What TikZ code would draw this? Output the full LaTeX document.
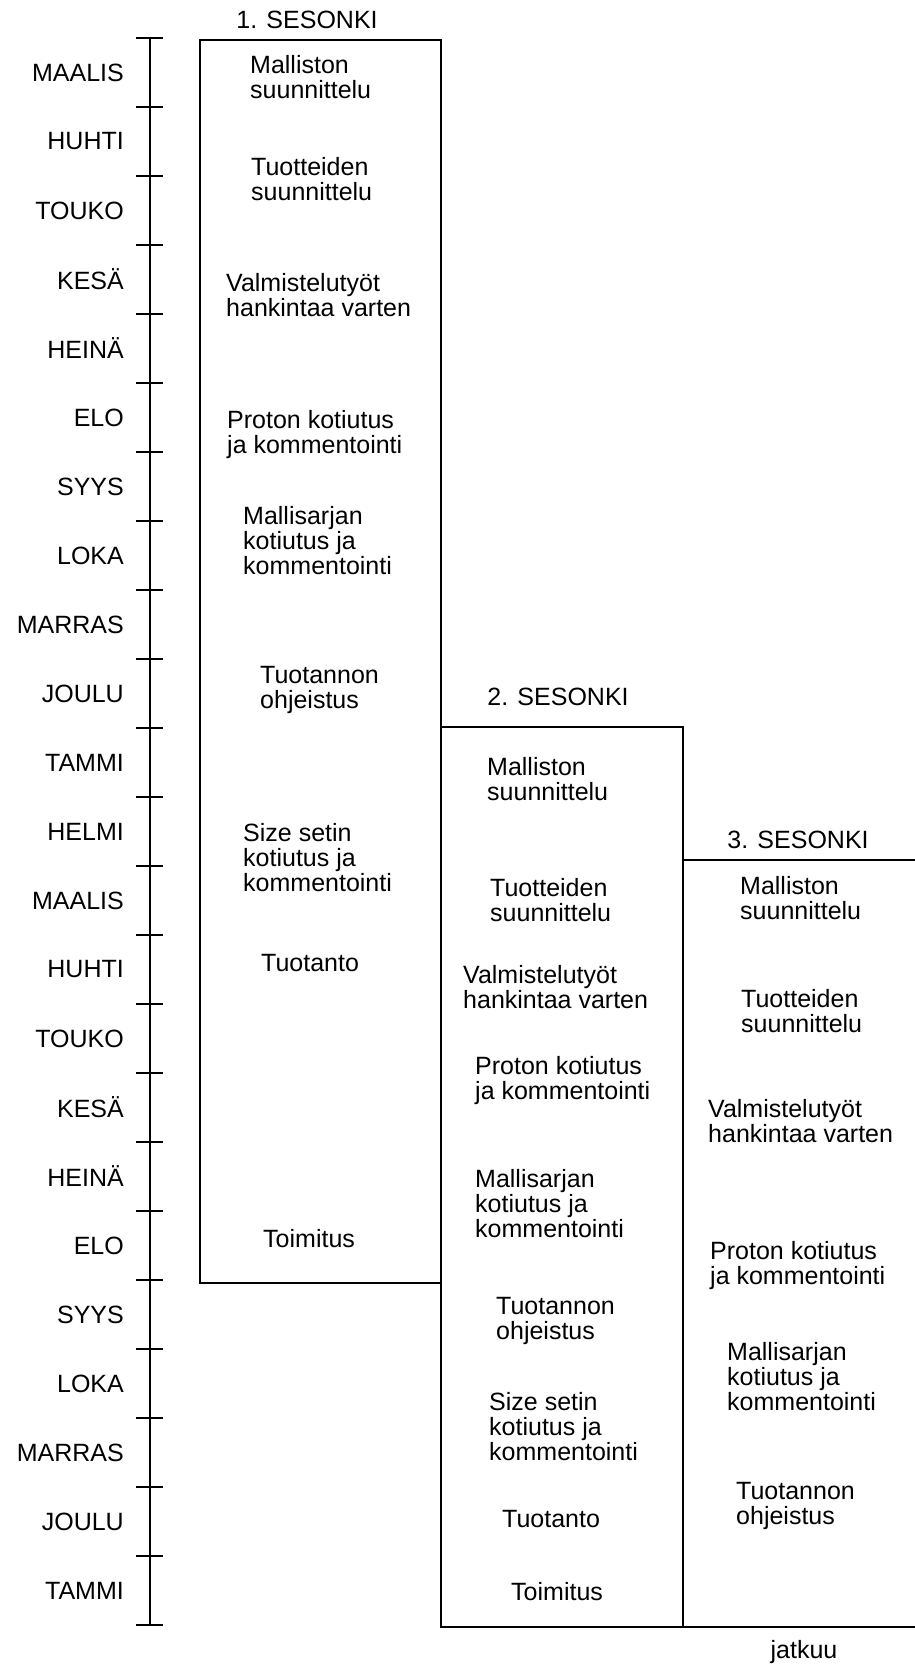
\documentclass[tikz,border=0pt]{standalone}
\usepackage{fontspec}
\setmainfont{Liberation Sans}
\begin{document}
\begin{tikzpicture}[x=1pt,y=-1pt,
  ln/.style={line width=1.8pt, line cap=rect},
  mon/.style={anchor=east, inner sep=0pt, font=\fontsize{25}{25}\selectfont},
  txt/.style={anchor=west, inner sep=0pt, align=left, font=\fontsize{25}{25}\selectfont},
  ttl/.style={anchor=center, inner sep=0pt, font=\fontsize{25}{25}\selectfont}]
\useasboundingbox (0,0) rectangle (914,1665);
% time axis
\draw[ln] (150,38) -- (150,1625);
\foreach \k in {0,...,23}{
  \draw[ln] (137,38+69*\k) -- (162,38+69*\k);
}
\foreach \m [count=\k from 0] in {MAALIS,HUHTI,TOUKO,KES\"A,HEIN\"A,ELO,SYYS,LOKA,MARRAS,JOULU,TAMMI,HELMI,MAALIS,HUHTI,TOUKO,KES\"A,HEIN\"A,ELO,SYYS,LOKA,MARRAS,JOULU,TAMMI}{
  \node[mon] (m\k) at (124,72.5+69*\k) {\m};
}
% boxes
\draw[ln] (200,40) rectangle (441,1283);
\draw[ln] (441,727) rectangle (683,1627);
\draw[ln] (683,860) -- (914,860);
\draw[ln] (683,1627) -- (914,1627);
% titles
\node[ttl] (t1) at (307,20) {1. SESONKI};
\node[ttl] (t2) at (558,697) {2. SESONKI};
\node[ttl] (t3) at (798,840) {3. SESONKI};
\node[ttl] (jat) at (804,1652) {jatkuu};
% season 1
\node[txt] (a1) at (250,77) {Malliston\\suunnittelu};
\node[txt] (a2) at (251,179) {Tuotteiden\\suunnittelu};
\node[txt] (a3) at (226,295) {Valmistelutyöt\\hankintaa varten};
\node[txt] (a4) at (227,435) {Proton kotiutus\\ja kommentointi};
\node[txt] (a5) at (243,541) {Mallisarjan\\kotiutus ja\\kommentointi};
\node[txt] (a6) at (260,690) {Tuotannon\\ohjeistus};
\node[txt] (a7) at (243,858) {Size setin\\kotiutus ja\\kommentointi};
\node[txt] (a8) at (261,963) {Tuotanto};
\node[txt] (a9) at (263,1239) {Toimitus};
% season 2
\node[txt] (b1) at (487,779) {Malliston\\suunnittelu};
\node[txt] (b2) at (490,900) {Tuotteiden\\suunnittelu};
\node[txt] (b3) at (463,987) {Valmistelutyöt\\hankintaa varten};
\node[txt] (b4) at (475,1081) {Proton kotiutus\\ja kommentointi};
\node[txt] (b5) at (475,1204) {Mallisarjan\\kotiutus ja\\kommentointi};
\node[txt] (b6) at (496,1321) {Tuotannon\\ohjeistus};
\node[txt] (b7) at (489,1427) {Size setin\\kotiutus ja\\kommentointi};
\node[txt] (b8) at (502,1519) {Tuotanto};
\node[txt] (b9) at (511,1592) {Toimitus};
% season 3
\node[txt] (c1) at (740,898) {Malliston\\suunnittelu};
\node[txt] (c2) at (741,1011) {Tuotteiden\\suunnittelu};
\node[txt] (c3) at (708,1121) {Valmistelutyöt\\hankintaa varten};
\node[txt] (c4) at (710,1266) {Proton kotiutus\\ja kommentointi};
\node[txt] (c5) at (727,1377) {Mallisarjan\\kotiutus ja\\kommentointi};
\node[txt] (c6) at (736,1506) {Tuotannon\\ohjeistus};
\end{tikzpicture}
\end{document}
